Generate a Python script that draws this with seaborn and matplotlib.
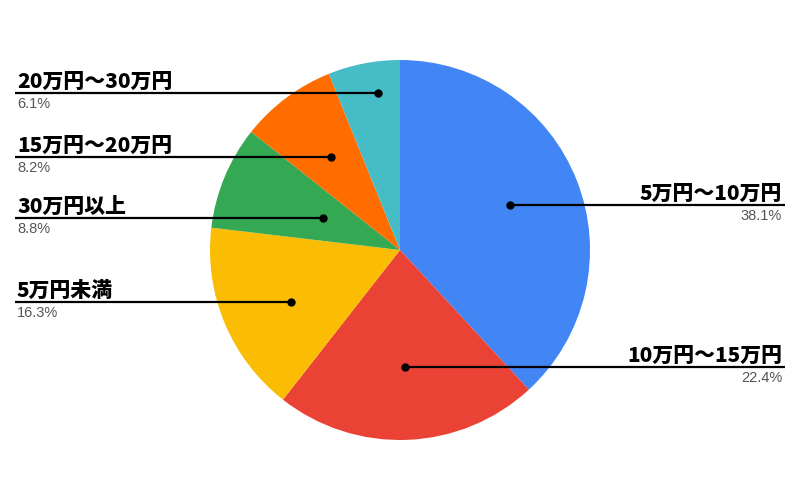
"""income distribution pie chart"""

import numpy as np
import matplotlib.pyplot as plt
import seaborn as sns

labels = ["5万円〜10万円", "10万円〜15万円", "5万円未満", "30万円以上", "15万円〜20万円", "20万円〜30万円"]
shares = [38.1, 22.4, 16.3, 8.8, 8.2, 6.1]
colors = ["#4285F4", "#EA4335", "#FBBC04", "#34A853", "#FF6D01", "#46BDC6"]

# label layout: side and height of leader line (pixels from top)
sides = ["right", "right", "left", "left", "left", "left"]
line_y = [205, 367, 302, 218, 157, 93]

W, H = 800, 501
CX, CY, R = 400, H - 250, 190

sns.set_theme(style="white")
plt.rcParams["font.family"] = ["Noto Sans CJK JP", "DejaVu Sans"]

fig = plt.figure(figsize=(8, 5.01), dpi=100)
ax = fig.add_axes([0, 0, 1, 1])
wedges, _ = ax.pie(shares, colors=colors, startangle=90, counterclock=False,
                   center=(CX, CY), radius=R, wedgeprops={"linewidth": 0})
ax.set_xlim(0, W)
ax.set_ylim(0, H)
ax.set_aspect("equal")
ax.axis("off")

for w, lab, val, side, ly in zip(wedges, labels, shares, sides, line_y):
    mid = np.deg2rad((w.theta1 + w.theta2) / 2)
    y = H - ly
    # dot sits on the slice's mid-angle, at the leader line height
    r = min((y - CY) / np.sin(mid), 0.62 * R) if abs(np.sin(mid)) > 0.3 else 0.62 * R
    x = CX + r * np.cos(mid)
    y_dot = y
    if side == "left":
        x0, x1, ha, tx = 15, x, "left", 17
    else:
        x0, x1, ha, tx = x, 785, "right", 782
    ax.plot([x0, x1], [y, y], color="black", lw=1.6, solid_capstyle="butt")
    ax.plot(x, y_dot, "o", color="black", ms=5)
    ax.text(tx, y + 5, lab, ha=ha, va="baseline", fontsize=15,
            fontweight="heavy", color="black")
    ax.text(tx, y - 15, f"{val}%", ha=ha, va="baseline", fontsize=10.5,
            color="#555555", family=["Liberation Sans", "DejaVu Sans"])

plt.savefig("out.png", dpi=100)
plt.close()
